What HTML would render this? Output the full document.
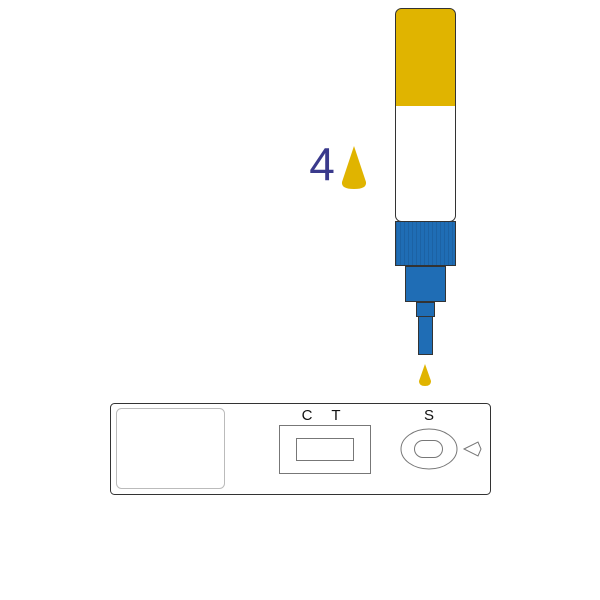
<!DOCTYPE html>
<html><head><style>body{margin:0;background:#fff}svg{display:block}</style></head><body>
<svg width="600" height="600" viewBox="0 0 600 600" xmlns="http://www.w3.org/2000/svg">
<defs><clipPath id="b"><rect x="395.5" y="8.5" width="60" height="213" rx="6"/></clipPath>
<pattern id="st" width="4" height="10" patternUnits="userSpaceOnUse"><rect width="4" height="10" fill="#1f6db5"/><line x1="0.5" y1="0" x2="0.5" y2="10" stroke="#1a5a98" stroke-width="0.6"/></pattern></defs>
<g clip-path="url(#b)"><rect x="395" y="8" width="62" height="98" fill="#e0b400"/><rect x="395" y="106" width="62" height="116" fill="#fff"/></g>
<rect x="395.5" y="8.5" width="60" height="213" rx="6" fill="none" stroke="#333" stroke-width="1"/>
<rect x="395.5" y="221.5" width="60" height="44" fill="url(#st)" stroke="#333"/>
<rect x="405.5" y="266.5" width="40" height="35" fill="#1f6db5" stroke="#333"/>
<rect x="416.5" y="302.5" width="18" height="14" fill="#1f6db5" stroke="#333"/>
<rect x="418.5" y="316.5" width="14" height="38" fill="#1f6db5" stroke="#333"/>
<path d="M425 364 L431 381 Q431 386 425 386 Q419 386 419 381 Z" fill="#e0b400"/>
<text x="322" y="180" font-family="Liberation Sans,sans-serif" font-size="46" fill="#3a3a8c" text-anchor="middle">4</text>
<path d="M354 146 L366 182 Q367 189 354 189 Q341 189 342 182 Z" fill="#e0b400"/>
<rect x="110.5" y="403.5" width="380" height="91" rx="4" fill="#fff" stroke="#333"/>
<rect x="116.5" y="408.5" width="108" height="80" rx="5" fill="none" stroke="#bbb"/>
<rect x="279.5" y="425.5" width="91" height="48" fill="none" stroke="#777"/>
<rect x="296.5" y="438.5" width="57" height="22" fill="none" stroke="#777"/>
<g font-family="Liberation Sans,sans-serif" font-size="15" fill="#111" text-anchor="middle"><text x="307" y="420">C</text><text x="336" y="420">T</text><text x="429" y="420">S</text></g>
<ellipse cx="429" cy="449" rx="28" ry="20" fill="none" stroke="#777"/>
<rect x="414.5" y="440.5" width="28" height="17" rx="8.5" fill="none" stroke="#777"/>
<path d="M464 449 L478 442 L481 449 L478 456 Z" fill="none" stroke="#777"/>
</svg>
</body></html>
